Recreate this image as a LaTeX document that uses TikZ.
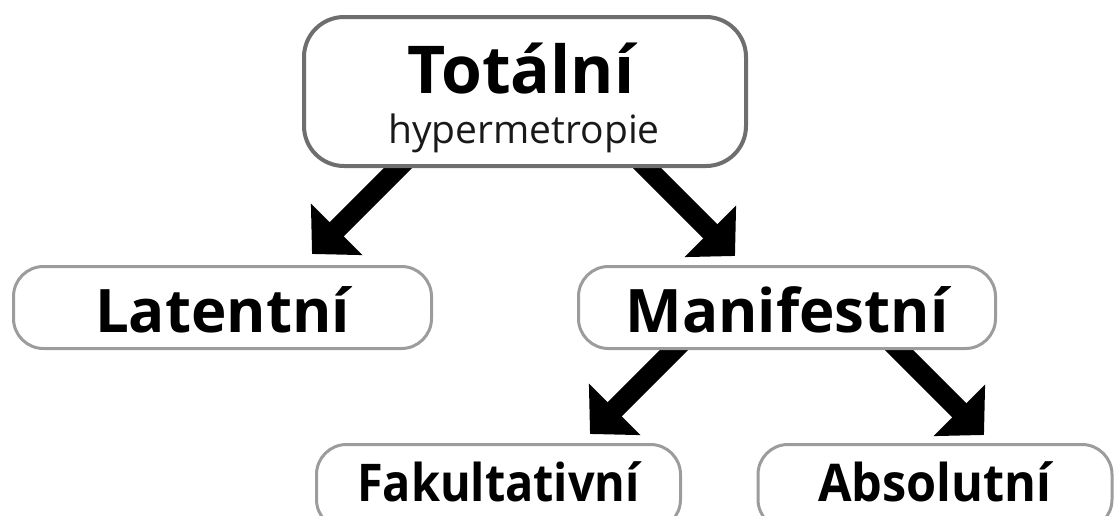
\documentclass[tikz,border=0pt]{standalone}
\usepackage{fontspec}
\setmainfont{Open Sans}
\usetikzlibrary{arrows.meta,calc,backgrounds}
\definecolor{darkborder}{HTML}{6E6E6E}
\definecolor{lightborder}{HTML}{9C9C9C}
\tikzset{
  box/.style={draw=lightborder, line width=3pt, fill=white, rounded corners=30pt,
    minimum height=82pt, inner sep=0pt, text depth=0pt, font=\bfseries\fontsize{60}{64}\selectfont},
  smallbox/.style={box, minimum height=85pt, text height=28pt, font=\bfseries\fontsize{52}{56}\selectfont},
  topbox/.style={draw=darkborder, line width=4pt, fill=white, rounded corners=40pt,
    minimum width=442pt, minimum height=149pt, inner sep=0pt},
  bigarrow/.style={line width=20pt, black, -{Triangle[length=35pt,width=71pt]}},
}
\begin{document}
\begin{tikzpicture}[x=1pt,y=-1pt]
\useasboundingbox (0,0) rectangle (1117,515);
\clip (0,0) rectangle (1117,515);
% boxes
\node[topbox] (top) at (525,91.5) {};
\node[anchor=base, font=\bfseries\fontsize{66}{70}\selectfont] (t1) at (521,93) {Totální};
\node[anchor=base, font=\fontsize{39}{42}\selectfont, text=black!90] (t2) at (524,143) {hypermetropie};
\node[box, minimum width=418pt, text height=49pt] (lat) at (222.5,307.5) {Latentní};
\node[box, minimum width=417pt, text height=49pt] (man) at (787,307.5) {Manifestní};
\node[smallbox, minimum width=364pt] (fak) at (498.5,487) {\scalebox{0.9}[1]{Fakultativní}};
\node[smallbox, minimum width=354pt] (abs) at (935,487) {\scalebox{0.935}[1]{Absolutní}};
% arrow tips
\coordinate (tipA) at (312,254);
\coordinate (tipB) at (735,256);
\coordinate (tipC) at (590,434);
\coordinate (tipD) at (984,435);
\begin{scope}[on background layer]
\draw[bigarrow] ($(top.south)+(-107,-20)$) -- (tipA);
\draw[bigarrow] ($(top.south)+(102,-20)$) -- (tipB);
\draw[bigarrow] ($(man.south)+(-93,-20)$) -- (tipC);
\draw[bigarrow] ($(man.south)+(92,-20)$) -- (tipD);
\end{scope}
\end{tikzpicture}
\end{document}
